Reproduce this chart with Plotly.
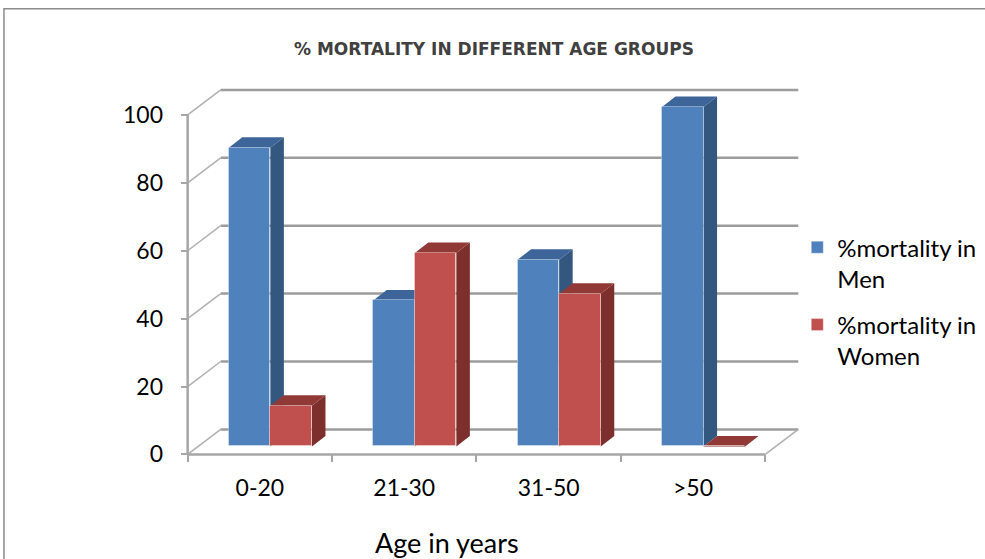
import plotly.graph_objects as go

# ---------------- data ----------------
categories = ["0-20", "21-30", "31-50", ">50"]
men = [88, 43, 55, 100]
women = [12, 57, 45, 0]
y_ticks = [0, 20, 40, 60, 80, 100]
series_names = ["%mortality in<br>Men", "%mortality in<br>Women"]
title_text = "% MORTALITY IN DIFFERENT AGE GROUPS"
x_title = "Age in years"

# ---------------- geometry / style ----------------
W, H = 985, 559
AX_X_PX, AX_Y_PX = 188, 454          # front axis origin in pixels
PX_PER_X, PX_PER_Y = 144.25, 3.39
XMIN, XMAX = -0.15, 4.4
YMIN, YMAX = -4, 110
plot_left = AX_X_PX + XMIN * PX_PER_X
plot_right = AX_X_PX + XMAX * PX_PER_X
plot_bottom = AX_Y_PX - YMIN * PX_PER_Y
plot_top = AX_Y_PX - YMAX * PX_PER_Y
plot_w = plot_right - plot_left
plot_h = plot_bottom - plot_top


def pxx(px):
    return (px - plot_left) / plot_w


def pxy(py):
    return (plot_bottom - py) / plot_h


# depth of the 3D box and bars, in data units
DX, DY = 33 / PX_PER_X, 25 / PX_PER_Y
BX, BY = 10.5 / PX_PER_X, 8 / PX_PER_Y
BDX, BDY = 13.5 / PX_PER_X, 10.5 / PX_PER_Y
BW = 0.288

front_colors = ["#4F81BD", "#C0504D"]
side_colors = ["#34577F", "#7D2F2D"]
top_colors = ["#3D6599", "#913937"]
grid_col = "#9c9c9c"
FONT = "Lato"

n = len(categories)
series = [men, women]

shapes = []
# back wall grid lines and left wall diagonals
for v in y_ticks:
    shapes.append(dict(type="line", xref="x", yref="y", x0=DX, y0=v + DY, x1=n + DX, y1=v + DY,
                       line=dict(color=grid_col, width=2.5), layer="below"))
    shapes.append(dict(type="line", xref="x", yref="y", x0=0, y0=v, x1=DX, y1=v + DY,
                       line=dict(color="#b0b0b0", width=1.5), layer="below"))
# floor right edge
shapes.append(dict(type="line", xref="x", yref="y", x0=n, y0=0, x1=n + DX, y1=DY,
                   line=dict(color="#b0b0b0", width=1.5), layer="below"))
# front axis lines
shapes.append(dict(type="line", xref="x", yref="y", x0=0, y0=0, x1=0, y1=max(y_ticks),
                   line=dict(color="#a6a6a6", width=2.5), layer="below"))
shapes.append(dict(type="line", xref="x", yref="y", x0=0, y0=0, x1=n, y1=0,
                   line=dict(color="#a6a6a6", width=2.5), layer="below"))


def path(pts):
    return "M " + " L ".join(f"{x},{y}" for x, y in pts) + " Z"


fig = go.Figure()
for s, vals in enumerate(series):
    xc = [i + 0.5 + BX + (s - 0.5) * BW for i in range(n)]
    fig.add_trace(go.Bar(
        x=xc, y=vals, base=BY, width=BW, name=series_names[s],
        marker=dict(color=front_colors[s], line=dict(color="rgba(255,255,255,0.35)", width=1)),
        legendgroup=f"g{s}", hoverinfo="skip"))
    for i, v in enumerate(vals):
        x0 = xc[i] - BW / 2
        x1 = xc[i] + BW / 2
        yb, yt = BY, BY + v
        side = [(x1, yb), (x1 + BDX, yb + BDY), (x1 + BDX, yt + BDY), (x1, yt)]
        top = [(x0, yt), (x1, yt), (x1 + BDX, yt + BDY), (x0 + BDX, yt + BDY)]
        shapes.append(dict(type="path", xref="x", yref="y", path=path(side),
                           fillcolor=side_colors[s], line=dict(width=0), layer="below"))
        shapes.append(dict(type="path", xref="x", yref="y", path=path(top),
                           fillcolor=top_colors[s], line=dict(width=0), layer="below"))

# outer chart border (top and left edges visible)
shapes.append(dict(type="path", xref="paper", yref="paper",
                   path=f"M {pxx(4.5)},{pxy(570)} L {pxx(4.5)},{pxy(9)} L {pxx(995)},{pxy(9)}",
                   line=dict(color="#8c8c8c", width=1.5)))

fig.update_layout(
    width=W, height=H,
    margin=dict(l=plot_left, r=W - plot_right, t=plot_top, b=H - plot_bottom, pad=0,
                autoexpand=False),
    paper_bgcolor="white", plot_bgcolor="white",
    barmode="overlay", bargap=0,
    shapes=shapes,
    showlegend=True,
    legend=dict(x=pxx(797), y=pxy(225), xanchor="left", yanchor="top", valign="top",
                font=dict(family=FONT, size=24, color="#000000"),
                tracegroupgap=12, bgcolor="rgba(0,0,0,0)"),
    font=dict(family=FONT, size=23, color="#000000"),
    xaxis=dict(range=[XMIN, XMAX], anchor="free", position=pxy(AX_Y_PX),
               tickvals=[i + 0.5 for i in range(n)], ticktext=categories,
               ticks="", showgrid=False, zeroline=False, showline=False,
               tickfont=dict(family=FONT, size=23, color="#000000"),
               ticklabelstandoff=18, automargin=False,
               minor=dict(tickvals=list(range(n + 1)), ticks="outside", ticklen=7,
                          tickwidth=2, tickcolor="#a6a6a6", showgrid=False)),
    yaxis=dict(range=[YMIN, YMAX], anchor="free", position=pxx(AX_X_PX),
               tickvals=y_ticks, ticks="outside", ticklen=7, tickwidth=2, tickcolor="#a6a6a6",
               showgrid=False, zeroline=False, showline=False,
               tickfont=dict(family=FONT, size=23, color="#000000"),
               ticklabelstandoff=13, automargin=False),
    annotations=[
        dict(text=title_text, xref="paper", yref="paper", x=pxx(494), y=pxy(49),
             xanchor="center", yanchor="middle", showarrow=False,
             font=dict(family="DejaVu Sans", size=17, color="#404040", weight="bold")),
        dict(text=x_title, xref="paper", yref="paper", x=pxx(447), y=pxy(542),
             xanchor="center", yanchor="middle", showarrow=False,
             font=dict(family=FONT, size=27, color="#000000")),
    ],
)

fig.write_html("out.html", config={"displayModeBar": False},
               post_script="document.body.style.margin='0px';")
